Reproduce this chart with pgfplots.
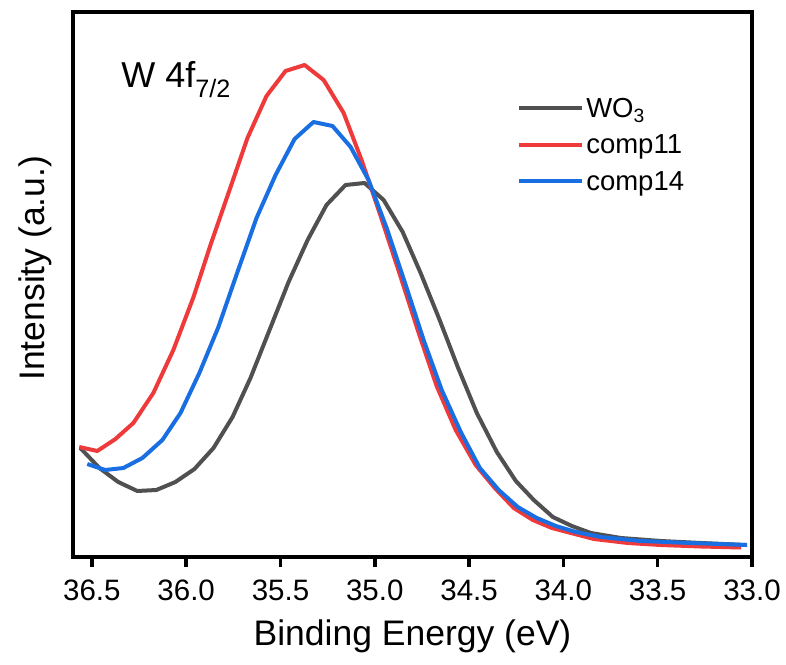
\documentclass[border=0pt]{standalone}
\usepackage{fontspec}
\setmainfont{Liberation Sans}
\usepackage{pgfplots}
\pgfplotsset{compat=1.18}
\definecolor{cgray}{RGB}{80,80,80}
\definecolor{cred}{RGB}{238,58,58}
\definecolor{cblue}{RGB}{25,110,225}
\begin{document}
\begin{tikzpicture}
\begin{axis}[
  at={(0pt,0pt)}, anchor=south west,
  width=679pt, height=545pt, scale only axis,
  xmin=33.0, xmax=36.6, x dir=reverse,
  ymin=0, ymax=545,
  xtick={33,33.5,...,36.5}, ytick=\empty,
  xtick pos=lower,
  tick align=outside,
  major tick length=10pt,
  every tick/.style={black, line width=3.5pt},
  axis line style={line width=3.5pt},
  /pgf/number format/assume math mode=true,
  ticklabel style={font=\fontsize{29.5}{35}\selectfont},
  xticklabel style={yshift=-9pt, /pgf/number format/.cd, fixed, fixed zerofill, precision=1},
  xlabel={Binding Energy (eV)},
  ylabel={Intensity (a.u.)},
  label style={font=\fontsize{35.5}{42}\selectfont},
  xlabel style={at={(axis description cs:0.5,-0.145)}, anchor=center},
  ylabel style={at={(axis description cs:-0.056,0.53)}, anchor=center},
  legend style={at={(axis description cs:0.654,0.846)}, anchor=north west, draw=none, fill=none,
    font=\fontsize{27.5}{33}\selectfont, inner sep=0pt, row sep=12pt,
    /tikz/every even column/.append style={column sep=0pt}},
  legend cell align=left,
  legend image code/.code={\draw[#1] (0pt,0pt) -- (63pt,0pt);},
  every axis plot/.append style={line width=4pt, line join=round},
]
\addplot[cgray] coordinates {
(36.561,109) (36.460,89) (36.360,75) (36.259,66) (36.158,67) (36.057,75)
(35.956,88) (35.855,109) (35.754,140) (35.659,179) (35.558,227) (35.457,275)
(35.356,317) (35.256,352) (35.155,372) (35.054,374) (34.953,357) (34.852,325)
(34.757,284) (34.656,237) (34.560,190) (34.459,144) (34.353,105) (34.252,76)
(34.157,57) (34.056,40) (33.955,31) (33.854,24) (33.695,19) (33.483,16)
(33.270,14) (33.031,12)
};
\addlegendentry{WO\textsubscript{3}}
\addplot[cred] coordinates {
(36.567,110) (36.471,106) (36.375,118) (36.280,134) (36.174,164) (36.068,207)
(35.961,260) (35.871,312) (35.770,367) (35.675,419) (35.574,461) (35.473,486)
(35.372,492) (35.271,477) (35.165,444) (35.070,397) (34.969,341) (34.868,283)
(34.767,224) (34.672,171) (34.571,127) (34.465,92) (34.364,69) (34.263,49)
(34.162,37) (34.061,29) (33.960,24) (33.838,18) (33.658,14) (33.483,12)
(33.270,10.5) (33.058,9.5)
};
\addlegendentry{comp11}
\addplot[cblue] coordinates {
(36.524,93) (36.429,87) (36.333,89) (36.232,99) (36.126,117) (36.030,144)
(35.930,184) (35.829,230) (35.728,285) (35.627,339) (35.526,382) (35.425,418)
(35.325,435) (35.224,431) (35.128,410) (35.033,377) (34.937,329) (34.836,272)
(34.741,217) (34.645,167) (34.544,125) (34.443,89) (34.343,67) (34.242,50)
(34.141,39) (34.040,31) (33.934,25) (33.801,20) (33.589,16) (33.323,14)
(33.026,12)
};
\addlegendentry{comp14}
\node[anchor=base west, font=\fontsize{36}{43}\selectfont] at (axis description cs:0.066,0.861) {W 4f\textsubscript{7/2}};
\end{axis}
\pgfresetboundingbox
\path[use as bounding box] (-73pt,-107pt) rectangle (713pt,557pt);
\end{tikzpicture}
\end{document}
